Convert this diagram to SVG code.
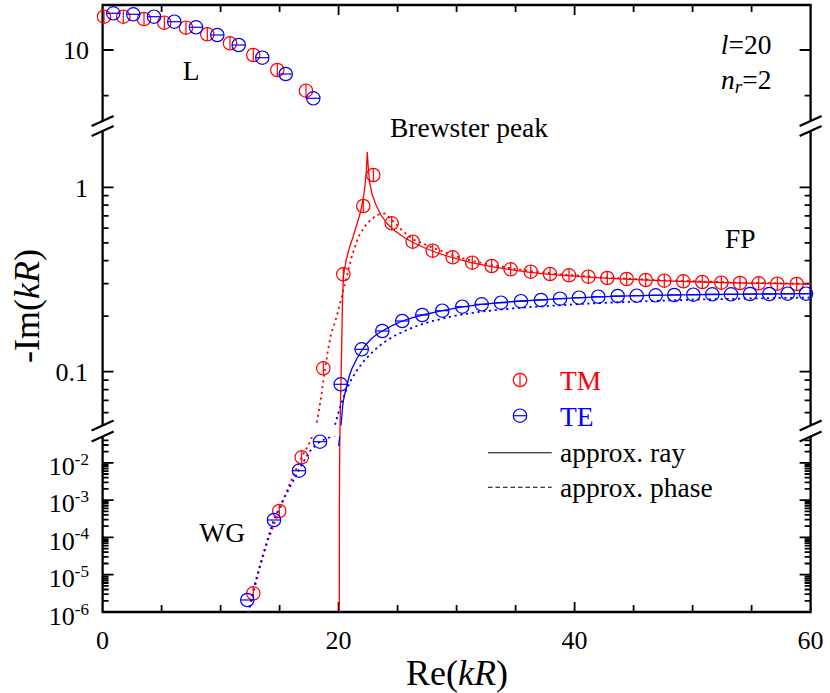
<svg xmlns="http://www.w3.org/2000/svg" width="830" height="693" viewBox="0 0 830 693" font-family="'Liberation Serif','Times New Roman',serif">
<style>
text{font-family:"Liberation Serif","Times New Roman",serif;fill:#000}
.tick{font-size:26px}
.lab{font-size:27.5px}
.title{font-size:36px}
.ax{stroke:#000;stroke-width:2.3;fill:none;stroke-linecap:butt}
.tk{stroke:#000;stroke-width:1.8;fill:none}
.red{stroke:#ff0000;fill:none}
.blue{stroke:#0000ff;fill:none}
.solid{stroke-width:1.3}
.dot{stroke-width:1.8;stroke-dasharray:2.2 3.6}
.mk{stroke-width:1.2;fill:none}
</style>
<defs>
<clipPath id="sec">
<rect x="0" y="0" width="830" height="121"/>
<rect x="0" y="131" width="830" height="294.5"/>
<rect x="0" y="436.5" width="830" height="257"/>
</clipPath>
<g id="tm" class="mk red"><circle r="6.7"/><line x1="0" y1="-6.7" x2="0" y2="6.7"/></g>
<g id="te" class="mk blue"><circle r="6.7"/><line x1="-6.7" y1="0" x2="6.7" y2="0"/></g>
</defs>
<rect width="830" height="693" fill="#fff"/>

<g id="axes">
<path class="ax" d="M101.5,5H811.7M101.5,612H811.7M102.6,5V121M102.6,131V425.5M102.6,436.5V612M810.6,5V121M810.6,131V425.5M810.6,436.5V612"/>
<path class="ax" d="M91.6,126L113.6,116M91.6,136L113.6,126M91.6,430.5L113.6,420.5M91.6,441.5L113.6,431.5M799.6,126L821.6,116M799.6,136L821.6,126M799.6,430.5L821.6,420.5M799.6,441.5L821.6,431.5"/>
</g>

<g id="ticks">
<path class="tk" d="M102.6,50h11M102.6,187.3h11M102.6,371.7h11M102.6,574.7h11M102.6,537.4h11M102.6,500.1h11M102.6,462.8h11
M810.6,50h-11M810.6,187.3h-11M810.6,371.7h-11M810.6,574.7h-11M810.6,537.4h-11M810.6,500.1h-11M810.6,462.8h-11"/>
<path class="tk" d="M102.6,95.7h6M102.6,195.7h6M102.6,205.2h6M102.6,215.9h6M102.6,228.2h6M102.6,242.8h6M102.6,260.7h6M102.6,283.7h6M102.6,316.2h6M102.6,380.1h6M102.6,389.6h6M102.6,400.3h6M102.6,412.6h6
M102.6,600.8h6M102.6,594.2h6M102.6,589.5h6M102.6,585.9h6M102.6,583h6M102.6,580.5h6M102.6,578.3h6M102.6,576.4h6
M102.6,563.5h6M102.6,556.9h6M102.6,552.2h6M102.6,548.6h6M102.6,545.7h6M102.6,543.2h6M102.6,541h6M102.6,539.1h6
M102.6,526.2h6M102.6,519.6h6M102.6,514.9h6M102.6,511.3h6M102.6,508.4h6M102.6,505.9h6M102.6,503.7h6M102.6,501.8h6
M102.6,488.9h6M102.6,482.3h6M102.6,477.6h6M102.6,474h6M102.6,471.1h6M102.6,468.6h6M102.6,466.4h6M102.6,464.5h6
M102.6,451.6h6M102.6,445h6M102.6,440.3h6
M810.6,95.7h-6M810.6,195.7h-6M810.6,205.2h-6M810.6,215.9h-6M810.6,228.2h-6M810.6,242.8h-6M810.6,260.7h-6M810.6,283.7h-6M810.6,316.2h-6M810.6,380.1h-6M810.6,389.6h-6M810.6,400.3h-6M810.6,412.6h-6
M810.6,600.8h-6M810.6,594.2h-6M810.6,589.5h-6M810.6,585.9h-6M810.6,583h-6M810.6,580.5h-6M810.6,578.3h-6M810.6,576.4h-6
M810.6,563.5h-6M810.6,556.9h-6M810.6,552.2h-6M810.6,548.6h-6M810.6,545.7h-6M810.6,543.2h-6M810.6,541h-6M810.6,539.1h-6
M810.6,526.2h-6M810.6,519.6h-6M810.6,514.9h-6M810.6,511.3h-6M810.6,508.4h-6M810.6,505.9h-6M810.6,503.7h-6M810.6,501.8h-6
M810.6,488.9h-6M810.6,482.3h-6M810.6,477.6h-6M810.6,474h-6M810.6,471.1h-6M810.6,468.6h-6M810.6,466.4h-6M810.6,464.5h-6
M810.6,451.6h-6M810.6,445h-6M810.6,440.3h-6"/>
<path class="tk" d="M338.6,612v-10M574.6,612v-10M338.6,5v10M574.6,5v10
M161.6,612v-7M220.6,612v-7M279.6,612v-7M397.6,612v-7M456.6,612v-7M515.6,612v-7M633.6,612v-7M692.6,612v-7M751.6,612v-7
M161.6,5v7M220.6,5v7M279.6,5v7M397.6,5v7M456.6,5v7M515.6,5v7M633.6,5v7M692.6,5v7M751.6,5v7"/>
</g>

<g id="tick-labels" class="tick">
<text x="102.6" y="649" text-anchor="middle">0</text>
<text x="338.6" y="649" text-anchor="middle">20</text>
<text x="574.6" y="649" text-anchor="middle">40</text>
<text x="810.6" y="649" text-anchor="middle">60</text>
<text x="89" y="59" text-anchor="end">10</text>
<text x="88" y="196.5" text-anchor="end">1</text>
<text x="88" y="381" text-anchor="end">0.1</text>
<text x="89" y="475" text-anchor="end">10<tspan font-size="17" dy="-10.5">-2</tspan></text>
<text x="89" y="512" text-anchor="end">10<tspan font-size="17" dy="-10.5">-3</tspan></text>
<text x="89" y="549.5" text-anchor="end">10<tspan font-size="17" dy="-10.5">-4</tspan></text>
<text x="89" y="587" text-anchor="end">10<tspan font-size="17" dy="-10.5">-5</tspan></text>
<text x="89" y="625" text-anchor="end">10<tspan font-size="17" dy="-10.5">-6</tspan></text>
</g>

<g id="axis-titles" class="title">
<text x="457" y="685" text-anchor="middle">Re(<tspan font-style="italic">kR</tspan>)</text>
<text transform="translate(39,306) rotate(-90)" text-anchor="middle">-Im(<tspan font-style="italic">kR</tspan>)</text>
</g>

<g id="curves">
<path class="red solid" d="M339.3,612L339.4,500L339.8,440L340.3,410L341,380L341.8,340L342.5,300L343.5,276L346,261L349,249L353,237L357,224L360.5,212L363,200L365,186L366.3,171L367.3,152L368.3,168L369.6,182L372,194L376,205L381,215L387,223.5L395,231L405,238L415,243.5L425,248L435,252L450,257L470,262.3L490,266.3L510,269.6L530,272.4L550,274.4L570,275.9L600,277.9L630,279.4L660,280.6L700,282L740,283L780,283.7L810.6,284.2"/>
<g clip-path="url(#sec)">
<path class="red dot" d="M248.3,613L253.3,593L260,567L268,540L279.3,511L290,483L301.7,457L308,446L312,437L314.5,430L316.7,423L319,410L321.5,395L323.3,381L325.5,366L328,350L331,334L336.7,316.7L341.7,296.7L346.7,276.7L351.7,256.7L358.3,237L366.7,223.5L376.7,215L385,213.5L393.3,221.5L403.3,231.5L413.3,239.5L433.3,248L453.3,255.5L473,261.2L493,265.2L513,268.6L533,271.4L560,274.3L600,277.2L660,280.2L740,282.6L810.6,283.8"/>
<path class="blue dot" d="M248.3,613L253.3,590L260,565L267,541L274,519L282,502L290,486.7L298.3,471L305,459L310,451L315,446L320,441.5L328,437.8L334,436L335,425L338,414L341.5,403L345,393L350,382L356,371.5L363,362L370,354.5L378,347L386.7,340.5L396,335L406.7,330L418,325.5L430,321.7L453.3,316L480,311.7L513.3,308.3L540,306.5L570,304.6L600,303L650,301L700,299.5L760,298.3L810.6,297.5"/>
<path class="blue solid" d="M338.6,446L339.6,438L340.5,430L341.2,424L342,414L342.7,406L343.5,400L345,393L346.7,386.5L349,377L351.7,369L356.7,359L361.7,350.5L366,344.5L371.7,338.5L377,334.3L382.3,331L392,325.7L402.3,321L412,317.8L422.3,315L442.3,310.7L462.3,306.8L481.7,304.3L501,302.5L521,301L541,299.8L560,298.7L580,297.7L600,296.8L620,296.1L650,295.4L680,294.9L710,294.5L750,294.1L810.6,293.6"/>
</g>
</g>

<g id="tm-points">
<use href="#tm" x="104" y="16.7"/><use href="#tm" x="123.3" y="16.7"/><use href="#tm" x="144" y="19"/><use href="#tm" x="164.3" y="22.7"/><use href="#tm" x="186" y="27.7"/><use href="#tm" x="207.3" y="34.3"/><use href="#tm" x="230" y="43.3"/><use href="#tm" x="253.3" y="55"/><use href="#tm" x="277.3" y="70"/><use href="#tm" x="306" y="90.7"/>
<use href="#tm" x="253.3" y="593.3"/><use href="#tm" x="279.3" y="511"/><use href="#tm" x="301.7" y="457.3"/>
<use href="#tm" x="323.3" y="368.3"/><use href="#tm" x="343.3" y="274.3"/><use href="#tm" x="363.3" y="206"/><use href="#tm" x="373.3" y="175"/><use href="#tm" x="391.7" y="223.3"/><use href="#tm" x="412.7" y="241.7"/><use href="#tm" x="432.7" y="250.7"/><use href="#tm" x="452.7" y="257.3"/><use href="#tm" x="472.3" y="262.7"/><use href="#tm" x="491.7" y="266"/><use href="#tm" x="510.7" y="269.3"/><use href="#tm" x="530.7" y="271.7"/><use href="#tm" x="550" y="274"/><use href="#tm" x="569" y="275.3"/><use href="#tm" x="588.3" y="276.7"/><use href="#tm" x="607.3" y="278"/><use href="#tm" x="626.7" y="279"/><use href="#tm" x="645.7" y="280"/><use href="#tm" x="664.3" y="280.7"/><use href="#tm" x="683.3" y="281.3"/><use href="#tm" x="702.3" y="282"/><use href="#tm" x="721.3" y="282.7"/><use href="#tm" x="740" y="283"/><use href="#tm" x="758.7" y="283.3"/><use href="#tm" x="777.3" y="283.7"/><use href="#tm" x="796.7" y="284"/>
</g>
<g id="te-points">
<use href="#te" x="113.3" y="13.3"/><use href="#te" x="133.3" y="14.3"/><use href="#te" x="154" y="16.7"/><use href="#te" x="174.3" y="21.7"/><use href="#te" x="196" y="27.3"/><use href="#te" x="217.3" y="35"/><use href="#te" x="238.7" y="45"/><use href="#te" x="262.3" y="57.7"/><use href="#te" x="285.7" y="74"/><use href="#te" x="313.3" y="98.3"/>
<use href="#te" x="247.3" y="600"/><use href="#te" x="274" y="520"/><use href="#te" x="299" y="470.7"/><use href="#te" x="320" y="441.7"/>
<use href="#te" x="340.7" y="384.3"/><use href="#te" x="361.7" y="349.3"/><use href="#te" x="382.3" y="331"/><use href="#te" x="402.3" y="321"/><use href="#te" x="422.3" y="315"/><use href="#te" x="442.3" y="310.7"/><use href="#te" x="462.3" y="306.7"/><use href="#te" x="481.7" y="304.3"/><use href="#te" x="501" y="302.7"/><use href="#te" x="521" y="301.2"/><use href="#te" x="541" y="300"/><use href="#te" x="560" y="298.7"/><use href="#te" x="579" y="297.7"/><use href="#te" x="598.3" y="296.7"/><use href="#te" x="617.7" y="296"/><use href="#te" x="636.7" y="295.7"/><use href="#te" x="655.7" y="295.3"/><use href="#te" x="674.3" y="295"/><use href="#te" x="693.3" y="294.7"/><use href="#te" x="712.3" y="294.3"/><use href="#te" x="731" y="294.3"/><use href="#te" x="750" y="294"/><use href="#te" x="769.3" y="294"/><use href="#te" x="787.7" y="293.7"/><use href="#te" x="806" y="293.7"/>
</g>

<g id="annotations" class="lab">
<text x="182.7" y="80">L</text>
<text x="390" y="136.5">Brewster peak</text>
<text x="725" y="248">FP</text>
<text x="199.3" y="541.5">WG</text>
<text x="771.5" y="53.5" text-anchor="end"><tspan font-style="italic">l</tspan>=20</text>
<text x="771.5" y="88.5" text-anchor="end"><tspan font-style="italic">n</tspan><tspan font-style="italic" font-size="19" dy="4">r</tspan><tspan dy="-4">=2</tspan></text>
</g>

<g id="legend" class="lab">
<use href="#tm" x="520" y="380"/>
<text x="560" y="390" style="fill:#ff0000">TM</text>
<use href="#te" x="520" y="415.7"/>
<text x="560" y="426" style="fill:#0000ff">TE</text>
<path d="M488,452.7H551.7" stroke="#000" stroke-width="1.1"/>
<text x="560" y="461.5">approx. ray</text>
<path d="M488,487.3H551.7" stroke="#000" stroke-width="1.1" stroke-dasharray="4.5 3"/>
<text x="560" y="496.5">approx. phase</text>
</g>
</svg>
